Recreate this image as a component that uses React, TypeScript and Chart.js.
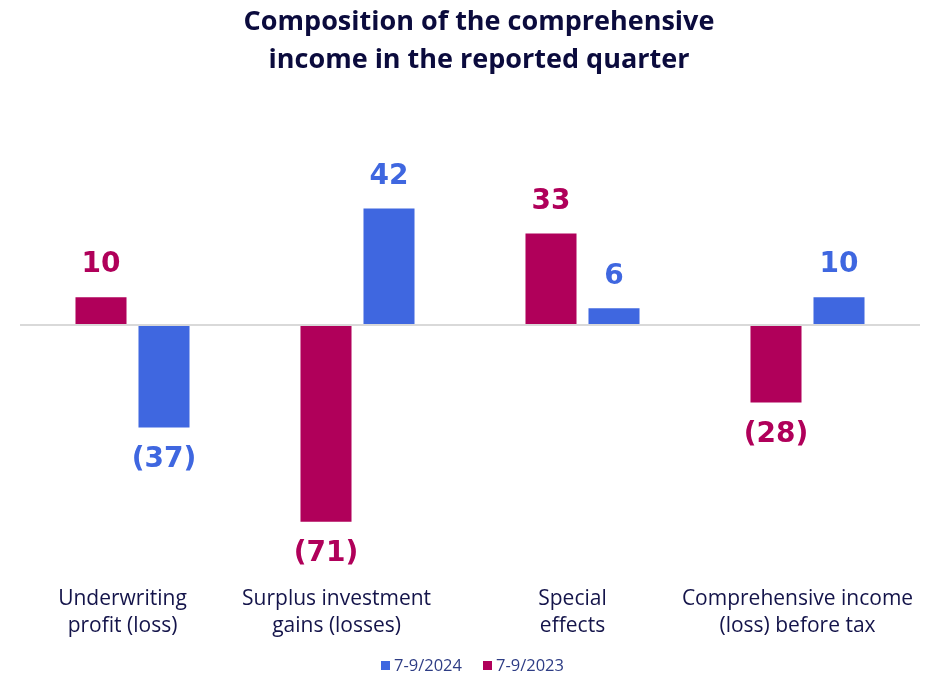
import React, { useEffect, useRef } from "react";
import { Chart, registerables } from "chart.js";

Chart.register(...registerables);

const categories: string[][] = [
  ["Underwriting", "profit (loss)"],
  ["Surplus investment    ", "gains (losses)    "],
  ["Special", "effects"],
  ["Comprehensive income", "(loss) before tax"],
];
const series2023: number[] = [10, -71, 33, -28];
const series2024: number[] = [-37, 42, 6, 10];
const seriesLabels: string[] = ["7-9/2023", "7-9/2024"];
const titleLines: string[] = ["Composition of the comprehensive", "income in the reported quarter"];

const MAGENTA = "#B0005A";
const BLUE = "#3F67E0";
const NAVY = "#0B0B3D";

const fmt = (v: number) => (v < 0 ? `(${Math.abs(v)})` : `${v}`);

const customPlugin = {
  id: "custom",
  afterDatasetsDraw(chart: any) {
    const ctx = chart.ctx;
    ctx.save();
    ctx.font = "bold 28px 'DejaVu Sans'";
    ctx.textAlign = "center";
    ctx.textBaseline = "middle";
    chart.data.datasets.forEach((ds: any, di: number) => {
      const meta = chart.getDatasetMeta(di);
      meta.data.forEach((bar: any, i: number) => {
        const v = ds.data[i];
        ctx.fillStyle = ds.backgroundColor;
        const y = v >= 0 ? bar.y - 32 : bar.y + 32;
        ctx.fillText(fmt(v), bar.x, y);
      });
    });
    ctx.restore();
  },
  afterDraw(chart: any) {
    const ctx = chart.ctx;
    ctx.save();
    ctx.font = "bold 27px 'Open Sans'";
    ctx.fillStyle = NAVY;
    ctx.textAlign = "center";
    ctx.textBaseline = "middle";
    ctx.fillText(titleLines[0], 471, 14);
    ctx.fillText(titleLines[1], 471, 52);
    ctx.font = "16.5px 'Open Sans'";
    ctx.textAlign = "left";
    const items = [
      { label: seriesLabels[1], color: BLUE },
      { label: seriesLabels[0], color: MAGENTA },
    ];
    let x = 373;
    const y = 658;
    items.forEach((it) => {
      ctx.fillStyle = it.color;
      ctx.fillRect(x, y - 5, 9, 9);
      ctx.fillStyle = "#2E3D85";
      ctx.fillText(it.label, x + 13, y);
      x += 102;
    });
    ctx.restore();
  },
};

export default function App() {
  const ref = useRef<HTMLCanvasElement>(null);
  useEffect(() => {
    if (!ref.current) return;
    const chart = new Chart(ref.current, {
      type: "bar",
      data: {
        labels: categories,
        datasets: [
          { label: seriesLabels[0], data: series2023, backgroundColor: MAGENTA, categoryPercentage: 0.56, barPercentage: 0.81 },
          { label: seriesLabels[1], data: series2024, backgroundColor: BLUE, categoryPercentage: 0.56, barPercentage: 0.81 },
        ],
      },
      options: {
        responsive: true,
        maintainAspectRatio: false,
        animation: false,
        layout: { padding: { top: 109, bottom: 25, left: 12, right: 5 } },
        plugins: { legend: { display: false }, title: { display: false }, tooltip: { enabled: false } },
        scales: {
          x: {
            grid: { display: false, drawTicks: false },
            border: { display: false },
            afterFit: (scale: any) => {
              scale.paddingLeft = 0;
              scale.paddingRight = 0;
            },
            ticks: {
              padding: 11,
              labelOffset: -10,
              color: "#14144A",
              font: { family: "'Open Sans'", size: 21, lineHeight: 1.3 },
              maxRotation: 0,
              autoSkip: false,
            },
          },
          y: {
            display: true,
            min: -90,
            max: 75,
            ticks: { display: false, stepSize: 5 },
            border: { display: false },
            grid: {
              drawTicks: false,
              lineWidth: 2,
              color: (c: any) => (c.tick && c.tick.value === 0 ? "#D9D9D9" : "rgba(0,0,0,0)"),
            },
          },
        },
      },
      plugins: [customPlugin],
    });
    return () => chart.destroy();
  }, []);
  return (
    <div style={{ position: "absolute", left: 8, top: 8, width: 917, height: 668 }}>
      <canvas ref={ref} />
    </div>
  );
}
